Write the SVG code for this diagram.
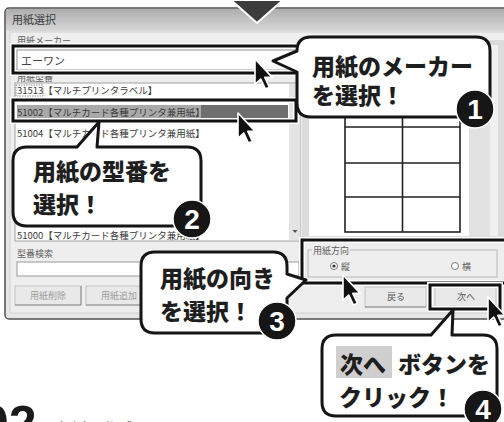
<svg xmlns="http://www.w3.org/2000/svg" width="504" height="422" viewBox="0 0 504 422">
<style>
.ui{font-family:"Noto Sans CJK JP","DejaVu Sans",sans-serif;}
.lbl{font-family:"Noto Sans CJK JP",sans-serif;font-size:9px;fill:#606060;}
.row{font-family:"Noto Sans CJK JP",sans-serif;font-size:9.5px;fill:#3a3a3a;}
.btn{fill:#e9e9e9;stroke:#c4c4c4;stroke-width:1;}
.btnt{font-family:"Noto Sans CJK JP",sans-serif;font-size:9px;text-anchor:middle;}
.hl{fill:none;stroke:#111;stroke-width:3;}
.hlw{fill:none;stroke:#fff;stroke-width:6;}
.bub{fill:#fff;stroke:#151515;stroke-width:3;stroke-linejoin:round;}
.bt{font-family:"Noto Sans CJK JP",sans-serif;font-weight:900;font-size:23px;fill:#1e1e1e;}
.bc{fill:#161616;stroke:#fff;stroke-width:1.5;}
.bn{font-family:"Liberation Sans",Arial,sans-serif;font-weight:bold;font-size:28px;fill:#fff;text-anchor:middle;}
.grid{stroke:#222;stroke-width:1.6;fill:none;}
</style>
<defs>
<linearGradient id="tg" x1="0" y1="0" x2="0" y2="1">
<stop offset="0" stop-color="#adadad"/>
<stop offset="1" stop-color="#d8d8d8"/>
</linearGradient>
<path id="cur" d="M0,0 V22 L5,17.5 L9,26 L12.5,24.5 L8.5,16 L15,16 Z" fill="#111" stroke="#fff" stroke-width="1.4" stroke-linejoin="round"/>
</defs>
<rect width="504" height="422" fill="#fff"/>

<!-- dialog window -->
<g id="dialog">
<rect x="5" y="8" width="530" height="311" rx="4" fill="#e6e6e6" stroke="#505050" stroke-width="1.5"/>
<rect x="6" y="9" width="528" height="22" rx="3" fill="url(#tg)"/>
<text x="12" y="24" class="ui" font-size="11" fill="#3a3a3a">用紙選択</text>
<rect x="10" y="32" width="520" height="281" fill="#eeeeee" stroke="#d2d2d2"/>

<text x="17" y="44" class="lbl">用紙メーカー</text>
<rect x="17" y="50" width="300" height="20" fill="#fff" stroke="#9a9a9a"/>
<text x="21" y="65" class="ui" font-size="11" fill="#444">エーワン</text>

<text x="17" y="81" class="lbl" font-size="8.5">用紙型番</text>
<rect x="15" y="83" width="285" height="158" fill="#fff" stroke="#a0a0a0"/>
<rect x="289" y="84" width="11" height="156" fill="#e4e4e4"/>
<path d="M292.5,230 H297.5 L295,233 Z" fill="#555"/>
<rect x="16" y="85" width="27" height="11" fill="none" stroke="#777" stroke-width="0.8" stroke-dasharray="1.5,1"/>
<text x="17" y="94" class="row">31513【マルチプリンタラベル】</text>
<rect x="17" y="105" width="271" height="13" fill="#6e6e6e"/>
<rect x="17" y="105" width="184" height="13" fill="#a9a9a9"/>
<text x="17" y="115.5" class="row" fill="#3c3c3c">51002【マルチカード各種プリンタ兼用紙】</text>
<text x="17" y="137" class="row">51004【マルチカード各種プリンタ兼用紙】</text>
<text x="17" y="239" class="row">51000【マルチカード各種プリンタ兼用紙】</text>

<text x="17" y="257" class="lbl">型番検索</text>
<rect x="17" y="262" width="282" height="14" fill="#fff" stroke="#9a9a9a"/>
<rect x="15" y="286" width="66" height="19" class="btn"/>
<path d="M15,305 H81 V286" fill="none" stroke="#8a8a8a"/>
<text x="48" y="299" class="btnt" fill="#9c9c9c">用紙削除</text>
<rect x="86" y="286" width="66" height="19" class="btn"/>
<path d="M86,305 H152 V286" fill="none" stroke="#8a8a8a"/>
<text x="119" y="299" class="btnt" fill="#9c9c9c">用紙追加</text>

<!-- preview panel -->
<rect x="302" y="40" width="210" height="198" fill="#dcdcdc"/>
<rect x="309" y="45" width="160" height="191" fill="#fff"/>
<rect x="469" y="45" width="21" height="191" fill="#e2e2e2"/>
<rect x="490" y="45" width="8" height="191" fill="#f0f0f0"/>
<rect x="345" y="92" width="115" height="140" class="grid"/>
<path d="M345,127 H460 M345,163 H460 M345,197 H460 M402.5,92 V232" class="grid"/>

<!-- orientation group -->
<rect x="308" y="250" width="189" height="27" fill="none" stroke="#b8b8b8"/>
<rect x="312" y="246" width="38" height="8" fill="#eeeeee"/>
<text x="313" y="254" class="lbl" fill="#555">用紙方向</text>
<circle cx="334" cy="266" r="3.5" fill="#fff" stroke="#777"/>
<circle cx="334" cy="266" r="1.6" fill="#333"/>
<text x="341" y="269.5" class="lbl" fill="#444">縦</text>
<circle cx="455" cy="266" r="3.5" fill="#fff" stroke="#777"/>
<text x="462" y="269.5" class="lbl" fill="#444">横</text>

<rect x="365" y="287" width="61" height="20" class="btn"/>
<path d="M365,307 H426" fill="none" stroke="#8a8a8a"/>
<text x="396" y="300" class="btnt" fill="#555">戻る</text>
<rect x="435" y="287" width="61" height="20" class="btn"/>
<text x="466" y="300" class="btnt" fill="#555">次へ</text>
</g>

<!-- highlight frames -->
<g id="frames">
<rect x="13" y="46" width="300" height="27" class="hlw"/>
<rect x="13" y="46" width="300" height="27" class="hl"/>
<rect x="13" y="100" width="283" height="21" class="hlw"/>
<rect x="13" y="100" width="283" height="21" class="hl"/>
<rect x="302" y="240" width="210" height="43" class="hlw"/>
<rect x="302" y="240" width="210" height="43" class="hl"/>
<rect x="430" y="285" width="70" height="24" class="hlw"/>
<rect x="430" y="285" width="70" height="24" class="hl"/>
</g>

<!-- top chevron -->
<polygon points="231,0 283,0 257,23" fill="#3c3c3c" stroke="#fff" stroke-width="2"/>

<!-- cursors -->
<g id="cursors">
<use href="#cur" transform="translate(255,59) scale(1.15)"/>
<use href="#cur" transform="translate(238,113) scale(1.15)"/>
<use href="#cur" transform="translate(343,275) scale(1.15)"/>
<use href="#cur" transform="translate(488,297) scale(1.15)"/>
</g>

<!-- bubble 1 -->
<g id="bubble1">
<path class="bub" d="M311,37 H476 Q490,37 490,51 V103 Q490,117 476,117 H311 Q297,117 297,103 V72 L273,61 L297,51 Q297,37 311,37 Z"/>
<text x="312" y="75" class="bt" font-size="24">用紙のメーカー</text>
<text x="312" y="104" class="bt" font-size="24">を選択！</text>
<circle cx="475" cy="109" r="19" class="bc"/>
<text x="475" y="119" class="bn">1</text>
</g>

<!-- bubble 2 -->
<g id="bubble2">
<path class="bub" d="M27,147 H77 L99,122 L97,147 H187 Q201,147 201,161 V212 Q201,226 187,226 H27 Q13,226 13,212 V161 Q13,147 27,147 Z"/>
<text x="33" y="180" class="bt">用紙の型番を</text>
<text x="33" y="213" class="bt">選択！</text>
<circle cx="192" cy="219" r="19" class="bc"/>
<text x="192" y="229" class="bn">2</text>
</g>

<!-- bubble 3 -->
<g id="bubble3">
<path class="bub" d="M155,252 H273 Q287,252 287,266 V274 L306,280 L287,298 V319 Q287,333 273,333 H155 Q141,333 141,319 V266 Q141,252 155,252 Z"/>
<text x="160" y="287" class="bt">用紙の向き</text>
<text x="160" y="320" class="bt">を選択！</text>
<circle cx="277" cy="321" r="19" class="bc"/>
<text x="277" y="331" class="bn">3</text>
</g>

<!-- bubble 4 -->
<g id="bubble4">
<path class="bub" d="M336,335 H431 L453,310 L452,335 H483 Q497,335 497,349 V402 Q497,416 483,416 H336 Q322,416 322,402 V349 Q322,335 336,335 Z"/>
<rect x="336" y="346" width="56" height="32" fill="#cfcfcf"/>
<text y="373" class="bt"><tspan x="340">次へ</tspan><tspan x="398">ボタンを</tspan></text>
<text x="339" y="406" class="bt">クリック！</text>
<circle cx="483" cy="409" r="19" class="bc"/>
<text x="483" y="419" class="bn">4</text>
</g>

<!-- page footer (cut off) -->
<text x="-19" y="441" font-family="Liberation Sans,Arial,sans-serif" font-weight="bold" font-size="50" fill="#1a1a1a">02</text>
<text x="55" y="435" class="ui" font-size="16" fill="#333">台紙を作成する</text>
</svg>
